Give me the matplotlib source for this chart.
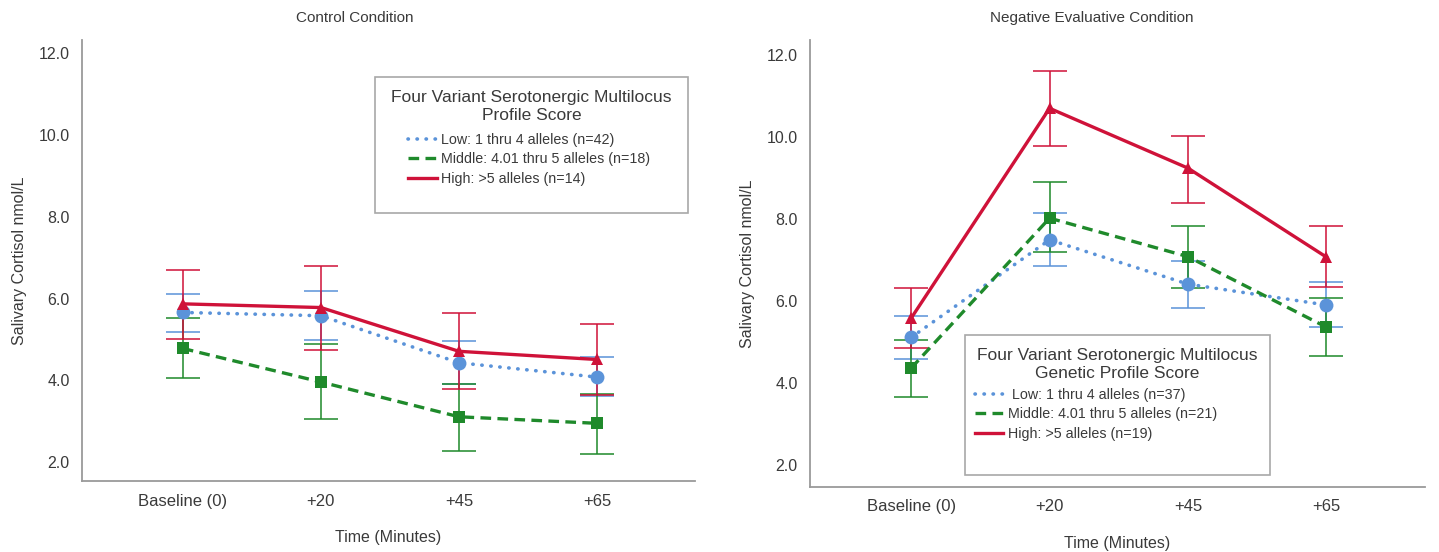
import numpy as np
import matplotlib
matplotlib.use('Agg')
import matplotlib.pyplot as plt
from matplotlib.patches import Rectangle
from matplotlib.lines import Line2D

plt.rcParams['font.family'] = ['Liberation Sans', 'DejaVu Sans']

# ── data ──────────────────────────────────────────────────────────────────────
TIMES = ['Baseline (0)', '+20', '+45', '+65']

# Control condition: mean, lower CI, upper CI
ctrl_low_mean = [5.66, 5.58, 4.43, 4.08]
ctrl_low_lo   = [5.17, 4.99, 3.91, 3.61]
ctrl_low_hi   = [6.12, 6.18, 4.96, 4.57]

ctrl_mid_mean = [4.78, 3.96, 3.11, 2.95]
ctrl_mid_lo   = [4.06, 3.06, 2.27, 2.19]
ctrl_mid_hi   = [5.53, 4.88, 3.91, 3.66]

ctrl_high_mean = [5.87, 5.78, 4.71, 4.51]
ctrl_high_lo   = [5.02, 4.73, 3.79, 3.65]
ctrl_high_hi   = [6.69, 6.79, 5.64, 5.37]

# Negative evaluative condition
neg_low_mean = [5.11, 7.49, 6.41, 5.90]
neg_low_lo   = [4.58, 6.85, 5.82, 5.37]
neg_low_hi   = [5.63, 8.14, 6.98, 6.46]

neg_mid_mean = [4.36, 8.02, 7.08, 5.36]
neg_mid_lo   = [3.65, 7.19, 6.31, 4.66]
neg_mid_hi   = [5.05, 8.90, 7.84, 6.07]

neg_high_mean = [5.58, 10.70, 9.24, 7.07]
neg_high_lo   = [4.85, 9.79, 8.40, 6.33]
neg_high_hi   = [6.31, 11.62, 10.02, 7.83]

CTRL_LABELS = ['Low: 1 thru 4 alleles (n=42)',
               'Middle: 4.01 thru 5 alleles (n=18)',
               'High: >5 alleles (n=14)']
NEG_LABELS = [' Low: 1 thru 4 alleles (n=37)',
              'Middle: 4.01 thru 5 alleles (n=21)',
              'High: >5 alleles (n=19)']

# ── style ─────────────────────────────────────────────────────────────────────
BLUE, GREEN, RED = '#5b93d9', '#1f8a2b', '#cf1239'
TXT = '#3a3a3a'
SPINE = '#9a9a9a'

STYLES = [
    dict(color=BLUE, ls=(0, (0.1, 2.4)), lw=2.6, marker='o', ms=10,
         dash_capstyle='round'),
    dict(color=GREEN, ls=(0, (3.2, 1.9)), lw=2.4, marker='s', ms=9),
    dict(color=RED, ls='-', lw=2.4, marker='^', ms=9),
]


def draw_panel(ax, series, labels, ylim, box, title_txt, leg_anchor):
    x = np.arange(len(TIMES))
    for (mean, lo, hi), st in zip(series, STYLES):
        mean, lo, hi = map(np.asarray, (mean, lo, hi))
        ax.errorbar(x, mean, yerr=[mean - lo, hi - mean], fmt='none',
                    ecolor=st['color'], elinewidth=1.3, capsize=12,
                    capthick=1.3, alpha=0.85, zorder=2)
    for (mean, lo, hi), st in zip(series, STYLES):
        ax.plot(x, mean, color=st['color'], linestyle=st['ls'], lw=st['lw'],
                marker=st['marker'], ms=st['ms'], markeredgewidth=0,
                dash_capstyle=st.get('dash_capstyle', 'butt'), zorder=3)

    ax.set_xlim(-0.73, 3.71)
    ax.set_ylim(*ylim)
    ax.set_xticks(x)
    ax.set_xticklabels(TIMES)
    ax.set_yticks([2, 4, 6, 8, 10, 12])
    ax.set_yticklabels(['2.0', '4.0', '6.0', '8.0', '10.0', '12.0'])
    ax.tick_params(axis='x', length=0, labelsize=12, colors=TXT, pad=9)
    ax.tick_params(axis='y', length=0, labelsize=11.5, colors=TXT, pad=9)
    for s in ['top', 'right']:
        ax.spines[s].set_visible(False)
    for s in ['left', 'bottom']:
        ax.spines[s].set_color(SPINE)
        ax.spines[s].set_linewidth(1.3)

    ax.set_xlabel('Time (Minutes)', fontsize=11.5, color=TXT)
    ax.xaxis.set_label_coords(0.5, -0.11)
    ax.set_ylabel('Salivary Cortisol nmol/L', fontsize=11.5, color=TXT)
    ax.yaxis.set_label_coords(-0.09, 0.5)

    # legend box (SPSS style)
    bx, by, bw, bh = box
    ax.add_patch(Rectangle((bx, by), bw, bh, transform=ax.transAxes,
                           facecolor='white', edgecolor='#a8a8a8', lw=1.2,
                           zorder=4))
    ax.text(bx + bw / 2, by + bh - 0.03, title_txt, transform=ax.transAxes,
            ha='center', va='top', fontsize=12.5, color=TXT,
            linespacing=1.2, zorder=5)
    handles = [Line2D([], [], color=st['color'], linestyle=st['ls'],
                      lw=st['lw'], dash_capstyle=st.get('dash_capstyle', 'butt'))
               for st in STYLES]
    leg = ax.legend(handles, labels, loc='upper left',
                    bbox_to_anchor=leg_anchor, frameon=False, fontsize=10.3,
                    handlelength=2.0, handletextpad=0.3, labelspacing=0.4,
                    borderaxespad=0, borderpad=0)
    leg.set_zorder(6)
    for t in leg.get_texts():
        t.set_color(TXT)


fig = plt.figure(figsize=(14.39, 5.52), dpi=100)
ax1 = fig.add_axes([0.057, 0.1286, 0.426, 0.799])
ax2 = fig.add_axes([0.563, 0.1178, 0.427, 0.810])

draw_panel(ax1,
           [(ctrl_low_mean, ctrl_low_lo, ctrl_low_hi),
            (ctrl_mid_mean, ctrl_mid_lo, ctrl_mid_hi),
            (ctrl_high_mean, ctrl_high_lo, ctrl_high_hi)],
           CTRL_LABELS, (1.54, 12.32),
           (0.478, 0.608, 0.511, 0.308),
           'Four Variant Serotonergic Multilocus\nProfile Score',
           (0.532, 0.79))
draw_panel(ax2,
           [(neg_low_mean, neg_low_lo, neg_low_hi),
            (neg_mid_mean, neg_mid_lo, neg_mid_hi),
            (neg_high_mean, neg_high_lo, neg_high_hi)],
           NEG_LABELS, (1.46, 12.37),
           (0.252, 0.027, 0.496, 0.313),
           'Four Variant Serotonergic Multilocus\nGenetic Profile Score',
           (0.268, 0.222))

fig.text(355 / 1439, 1 - 18 / 552, 'Control Condition', ha='center',
         va='center', fontsize=11, color=TXT)
fig.text(1092 / 1439, 1 - 18 / 552, 'Negative Evaluative Condition',
         ha='center', va='center', fontsize=11, color=TXT)

fig.savefig('out.png', dpi=100, facecolor='white')
